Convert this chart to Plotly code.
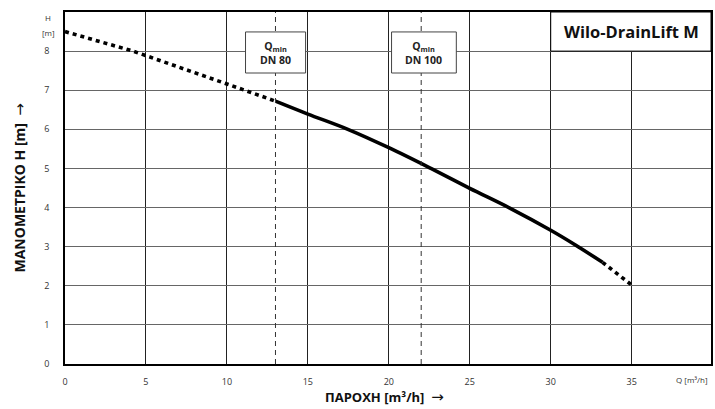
import plotly.graph_objects as go

# ---- data ----
q_dot_start = [0, 4.2, 10.0, 13.0]
h_dot_start = [8.5, 8.0, 7.16, 6.72]
q_solid = [13.0, 15.0, 17.47, 20.0, 22.6, 25.0, 27.5, 30.0, 31.5, 33.2]
h_solid = [6.72, 6.39, 6.0, 5.53, 5.0, 4.49, 3.98, 3.42, 3.05, 2.6]
q_dot_end = [33.2, 35.0]
h_dot_end = [2.6, 2.02]

qmin_positions = [13.0, 22.0]
qmin_labels = ["DN 80", "DN 100"]
qmin_box_x0 = [11.15, 20.17]
qmin_box_x1 = [14.86, 24.17]
qmin_box_y = [7.44, 8.49]

x_ticks = [0, 5, 10, 15, 20, 25, 30, 35]
y_ticks = [0, 1, 2, 3, 4, 5, 6, 7, 8]
title_text = "Wilo-DrainLift M"

FONT = "Open Sans"
ARROW = '<span style="font-family:DejaVu Sans;font-size:15px">→</span>'

fig = go.Figure()
line_w = 3.6
fig.add_trace(go.Scatter(x=q_dot_start, y=h_dot_start, mode="lines",
                         line=dict(color="black", width=line_w, dash="4px,4px"),
                         hoverinfo="skip"))
fig.add_trace(go.Scatter(x=q_solid, y=h_solid, mode="lines",
                         line=dict(color="black", width=line_w, shape="spline", smoothing=1.0),
                         hoverinfo="skip"))
fig.add_trace(go.Scatter(x=q_dot_end, y=h_dot_end, mode="lines",
                         line=dict(color="black", width=line_w, dash="4px,4px"),
                         hoverinfo="skip"))

shapes = []
annotations = []
for q in qmin_positions:
    shapes.append(dict(type="line", xref="x", yref="y", x0=q, x1=q, y0=0, y1=9,
                       line=dict(color="#333", width=1, dash="5px,4px"), layer="above"))
for lab, x0, x1 in zip(qmin_labels, qmin_box_x0, qmin_box_x1):
    shapes.append(dict(type="rect", xref="x", yref="y", x0=x0, x1=x1,
                       y0=qmin_box_y[0], y1=qmin_box_y[1],
                       fillcolor="white", line=dict(color="#444", width=1), layer="above"))
    annotations.append(dict(x=(x0 + x1) / 2, y=sum(qmin_box_y) / 2, xref="x", yref="y",
                            text="<b>Q<sub>min</sub></b><br><b>" + lab + "</b>",
                            showarrow=False, yshift=-1,
                            font=dict(family=FONT, size=10.5, color="#222"),
                            align="center"))

# title box (top right)
shapes.append(dict(type="rect", xref="x", yref="y", x0=30, x1=39.9, y0=8, y1=9,
                   fillcolor="white", line=dict(color="black", width=1), layer="above"))
annotations.append(dict(x=39.3, y=8.5, xref="x", yref="y", text="<b>" + title_text + "</b>",
                        showarrow=False, xanchor="right", yanchor="middle",
                        font=dict(family=FONT, size=16.5, color="#111")))

# axis unit labels
annotations.append(dict(x=0, y=1.0, xref="paper", yref="paper", text="H",
                        showarrow=False, xanchor="center", yanchor="middle",
                        xshift=-17, yshift=-5,
                        font=dict(family=FONT, size=8, color="#333")))
annotations.append(dict(x=0, y=1.0, xref="paper", yref="paper", text="[m]",
                        showarrow=False, xanchor="center", yanchor="middle",
                        xshift=-17, yshift=-20,
                        font=dict(family=FONT, size=8, color="#333")))
annotations.append(dict(x=1.0, y=0, xref="paper", yref="paper", text="Q [m³/h]",
                        showarrow=False, xanchor="right", yanchor="middle",
                        xshift=-1, yshift=-15,
                        font=dict(family=FONT, size=8, color="#333")))
# axis titles
annotations.append(dict(x=(385 - 64.5) / (712.7 - 64.5), y=0, xref="paper", yref="paper",
                        xanchor="center", yanchor="middle", yshift=-32.5,
                        text="<b>ΠΑΡΟΧΗ [m³/h]  </b>" + ARROW, showarrow=False,
                        font=dict(family=FONT, size=13, color="#111")))
annotations.append(dict(x=0, y=0.5, xref="paper", yref="paper",
                        xanchor="center", yanchor="middle",
                        text="<b>ΜΑΝΟΜΕΤΡΙΚΟ Η [m]  </b>" + ARROW, showarrow=False,
                        textangle=-90, xshift=-46.5, yshift=0,
                        font=dict(family=FONT, size=14, color="#111")))

fig.update_layout(
    width=715, height=409,
    margin=dict(l=64.5, r=2.3, t=11.5, b=44.5),
    paper_bgcolor="white", plot_bgcolor="white",
    showlegend=False,
    shapes=shapes, annotations=annotations,
    font=dict(family=FONT),
    xaxis=dict(range=[0, 39.9], tickvals=x_ticks, showgrid=True, gridcolor="#222",
               gridwidth=1, zeroline=False, showline=True, linecolor="black",
               linewidth=1.5, mirror=True, ticks="", ticklabelstandoff=8,
               tickfont=dict(family=FONT, size=9, color="#333")),
    yaxis=dict(range=[0, 9], tickvals=y_ticks, showgrid=True, gridcolor="#666",
               gridwidth=1.2, zeroline=False, showline=True, linecolor="black",
               linewidth=1.5, mirror=True, ticks="", ticklabelstandoff=12,
               tickfont=dict(family=FONT, size=9, color="#333")),
)

fig.write_html("out.html", config={"displayModeBar": False})

# remove the default page margin so the figure sits at the window's top-left corner
with open("out.html", "r", encoding="utf-8") as f:
    html = f.read()
html = html.replace("<head>", "<head><style>html,body{margin:0;padding:0;overflow:hidden}</style>", 1)
with open("out.html", "w", encoding="utf-8") as f:
    f.write(html)
